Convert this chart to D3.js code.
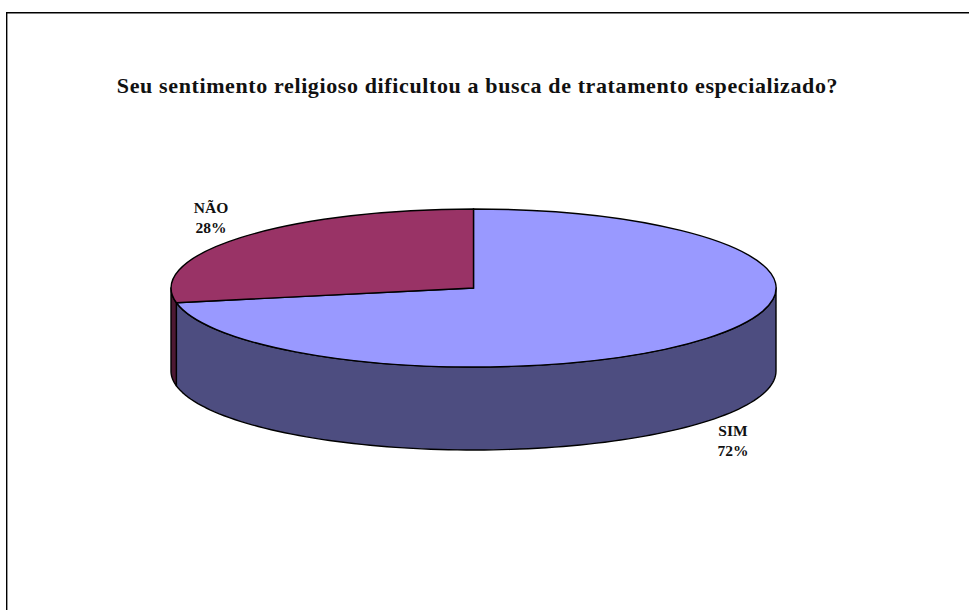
<!DOCTYPE html>
<html><head><meta charset="utf-8">
<script src="https://cdnjs.cloudflare.com/ajax/libs/d3/7.8.5/d3.min.js"></script>
<style>html,body{margin:0;padding:0;background:#fff}svg{display:block}</style>
</head><body><script>
const categories = ["SIM", "NÃO"];
const values = [72, 28];
const topColors = ["#9999FF", "#993366"];
const sideColors = ["#4D4D80", "#4D1933"];
const titleText = "Seu sentimento religioso dificultou a busca de tratamento especializado?";

const W = 969, H = 610, cx = 473.5, cy = 288, rx = 302.5, ry = 79, depth = 83;
const serif = "'Liberation Serif','Times New Roman',serif";
const svg = d3.select("body").append("svg").attr("width", W).attr("height", H);

svg.append("path").attr("d", `M6.7,${H}V12.7H${W}`).attr("fill", "none").attr("stroke", "#000").attr("stroke-width", 1.4);

svg.append("text").attr("x", 477.5).attr("y", 92.5).attr("text-anchor", "middle")
  .attr("font-family", serif).attr("font-weight", "bold").attr("font-size", 22).attr("letter-spacing", 0.62).attr("fill", "#111").text(titleText);

const arcs = d3.pie().sort(null)(values);
const X = a => cx + rx * Math.sin(a), Y = a => cy - ry * Math.cos(a);
const steps = a => d3.range(0, 101).map(i => a[0] + (a[1] - a[0]) * i / 100);
const lineGen = d3.line();

// side walls: only the front half of the rim (angles PI/2..3PI/2) is visible
const walls = svg.append("g");
arcs.forEach((d, i) => {
  const a0 = Math.max(d.startAngle, Math.PI / 2), a1 = Math.min(d.endAngle, 3 * Math.PI / 2);
  if (a1 <= a0) return;
  const rim = steps([a0, a1]);
  const pts = rim.map(a => [X(a), Y(a)]).concat(rim.slice().reverse().map(a => [X(a), Y(a) + depth]));
  walls.append("path").attr("d", lineGen(pts) + "Z").attr("fill", sideColors[i])
    .attr("stroke", "#000").attr("stroke-width", 1.4).attr("stroke-linejoin", "round");
});

// top face
const arcGen = d3.arc().innerRadius(0).outerRadius(1);
svg.append("g").attr("transform", `translate(${cx},${cy}) scale(${rx},${ry})`)
  .selectAll("path").data(arcs).join("path")
  .attr("d", arcGen).attr("fill", (d, i) => topColors[i])
  .attr("stroke", "#000").attr("stroke-width", 1.4).attr("vector-effect", "non-scaling-stroke");

// labels
const labelPos = [[733, 436], [211, 213]];
const total = d3.sum(values);
categories.forEach((c, i) => {
  const t = svg.append("text").attr("text-anchor", "middle").attr("font-family", serif)
    .attr("font-weight", "bold").attr("font-size", 15.5).attr("fill", "#111");
  t.append("tspan").attr("x", labelPos[i][0]).attr("y", labelPos[i][1]).text(c);
  t.append("tspan").attr("x", labelPos[i][0]).attr("y", labelPos[i][1] + 20).text(d3.format(".0%")(values[i] / total));
});
</script></body></html>
